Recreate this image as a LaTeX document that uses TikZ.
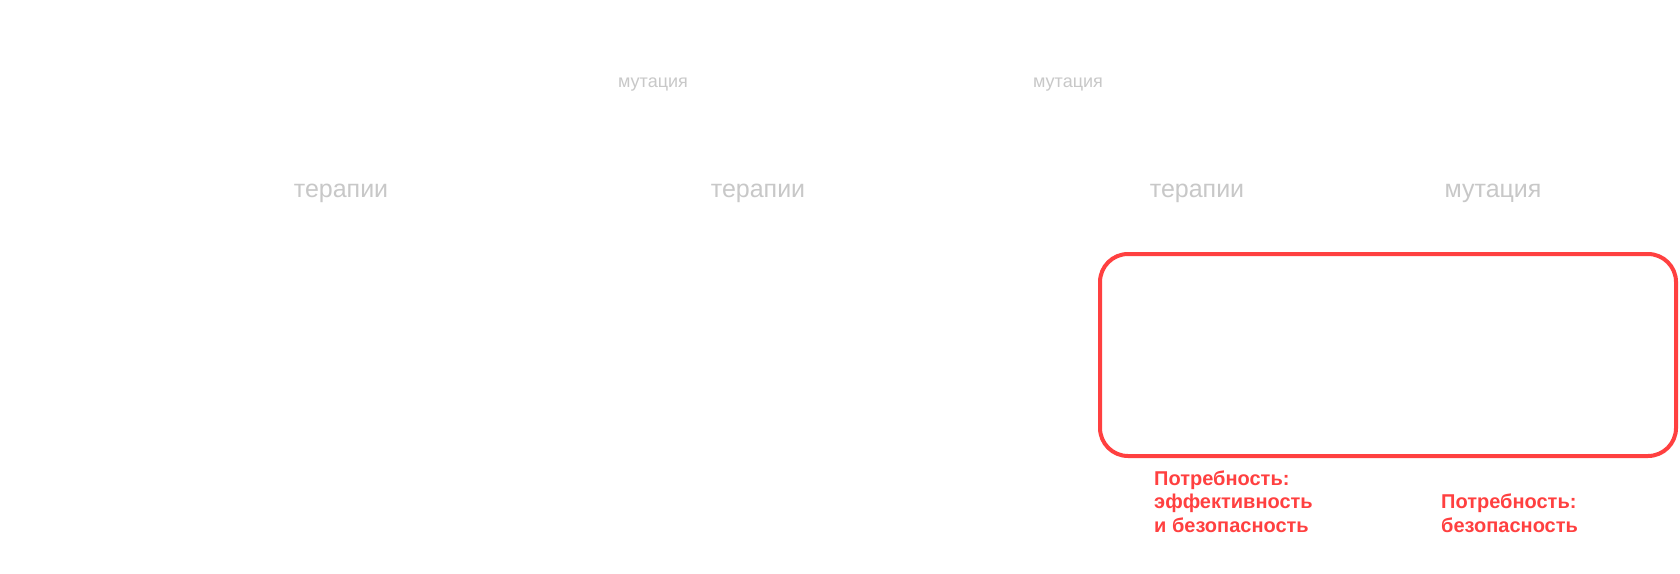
\documentclass[tikz,border=0pt]{standalone}
\usepackage{fontspec}
\setmainfont{Liberation Sans}
\definecolor{lightgraytxt}{HTML}{C8C8C8}
\definecolor{alertred}{HTML}{FF4040}
\begin{document}
\begin{tikzpicture}[x=1pt,y=-1pt,
  graysmall/.style={inner sep=0pt,anchor=base,text=lightgraytxt,font=\fontsize{18}{21}\selectfont},
  graybig/.style={inner sep=0pt,anchor=base,text=lightgraytxt,font=\fontsize{25}{30}\selectfont},
  redline/.style={inner sep=0pt,anchor=base west,text=alertred,font=\bfseries\fontsize{20}{23}\selectfont},
  redbox/.style={draw=alertred,line width=4pt,rounded corners=28pt,minimum width=576pt,minimum height=202pt,inner sep=0pt}]
\useasboundingbox (0,0) rectangle (1680,573);
\fill[white] (0,0) rectangle (1680,573);
\node[graysmall] (m1) at (653,87) {мутация};
\node[graysmall] (m2) at (1068,87) {мутация};
\node[graybig] (t1) at (341,197) {терапии};
\node[graybig] (t2) at (758,197) {терапии};
\node[graybig] (t3) at (1197,197) {терапии};
\node[graybig] (m3) at (1493,197) {мутация};
\node[redbox] (box) at (1388,355) {};
\node[redline] (a1) at (1154,485) {Потребность:};
\node[redline] (a2) at (1154,508) {эффективность};
\node[redline] (a3) at (1154,532) {и безопасность};
\node[redline] (b1) at (1441,508) {Потребность:};
\node[redline] (b2) at (1441,532) {безопасность};
\end{tikzpicture}
\end{document}
